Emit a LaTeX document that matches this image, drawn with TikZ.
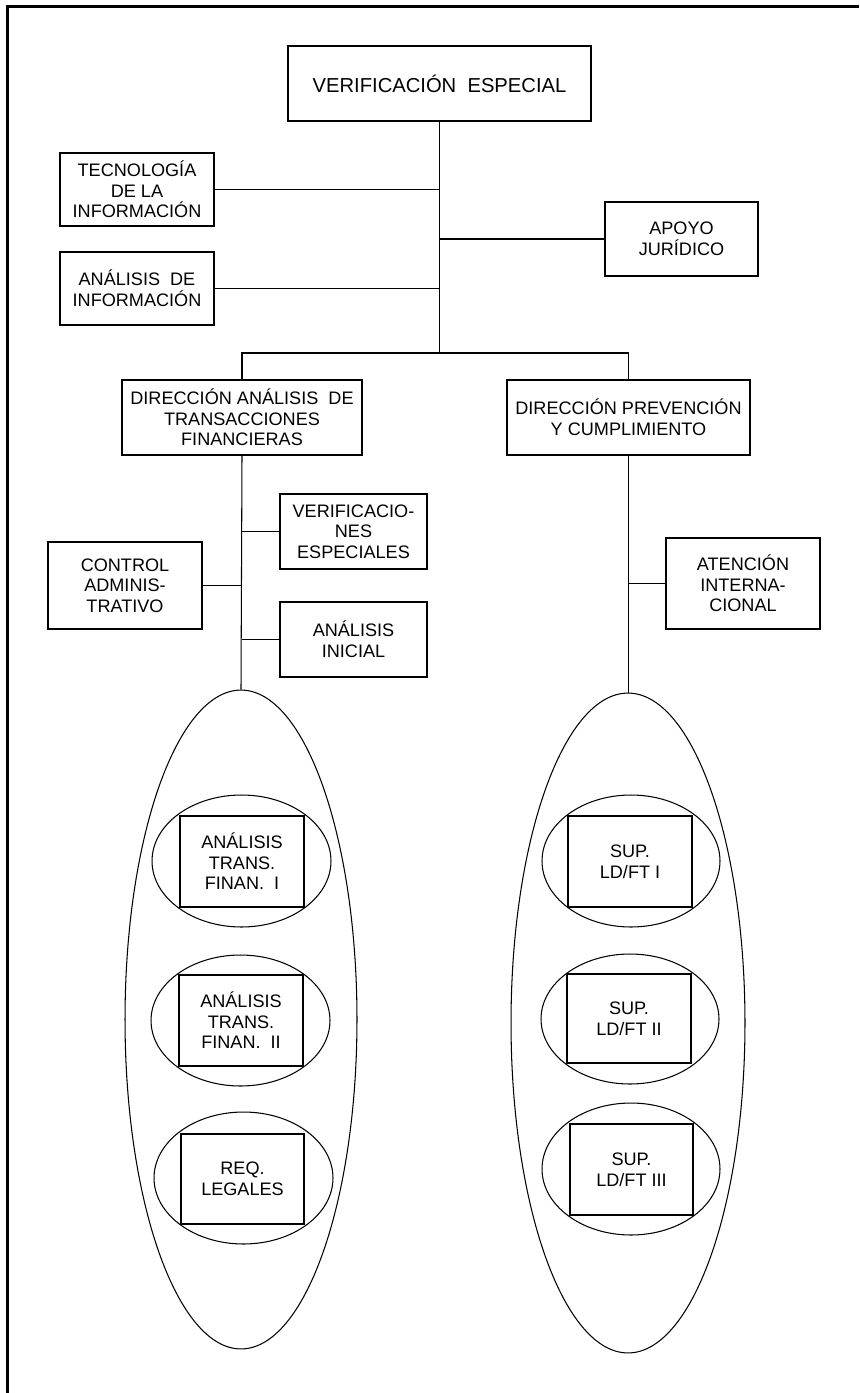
\documentclass[tikz,border=0pt]{standalone}
\usepackage{fontspec}
\setmainfont{Liberation Sans}
\usetikzlibrary{shapes.geometric}

\begin{document}
\begin{tikzpicture}[x=0.02cm, y=-0.02cm,
    every node/.style={font=\fontsize{10.3}{11.7}\selectfont, align=center, inner sep=1pt},
    box/.style 2 args={draw, line width=0.7pt, minimum width=#1, minimum height=#2},
    grp/.style 2 args={draw, ellipse, line width=0.6pt, minimum width=#1, minimum height=#2, inner sep=0pt},
    link/.style={line width=0.6pt}]
            \useasboundingbox (0,0) rectangle (859,1393);
            % frame
            \draw[line width=1.2pt] (7.5,1393) -- (7.5,6.5) -- (859,6.5);
            % upper levels
            \node[box={6.06cm}{1.5cm}, font=\fontsize{11.5}{13}\selectfont] (top) at (439.5,83.5) {VERIFICACIÓN\ \ ESPECIAL};
            \node[box={3.08cm}{1.46cm}] (tec) at (137,189.5) {TECNOLOGÍA\\DE LA\\INFORMACIÓN};
            \node[box={3.06cm}{1.48cm}] (apoyo) at (681.5,239) {APOYO\\JURÍDICO};
            \node[box={3.08cm}{1.46cm}] (anainf) at (137,288.5) {ANÁLISIS\ \ DE\\INFORMACIÓN};
            \node[box={4.8cm}{1.5cm}] (dat) at (242,417.5) {DIRECCIÓN ANÁLISIS\ \ DE\\TRANSACCIONES\\FINANCIERAS};
            \node[box={4.86cm}{1.5cm}] (dpc) at (628.5,417.5) {DIRECCIÓN PREVENCIÓN\\Y CUMPLIMIENTO};
            \node[box={2.94cm}{1.5cm}] (verif) at (353.5,531.5) {VERIFICACIO-\\NES\\ESPECIALES};
            \node[box={3.08cm}{1.74cm}] (control) at (125,585.5) {CONTROL\\ADMINIS-\\TRATIVO};
            \node[box={2.94cm}{1.5cm}] (inicial) at (353.5,639.5) {ANÁLISIS\\INICIAL};
            \node[box={3.08cm}{1.82cm}] (atencion) at (743,583.5) {ATENCIÓN\\INTERNA-\\CIONAL};
            % groups
            \node[grp={4.64cm}{13.18cm}] (grpA) at (241,1019.5) {};
            \node[grp={4.68cm}{13.2cm}] (grpB) at (628,1023) {};
            \node[grp={3.58cm}{2.64cm}] (cA1) at (241.5,861) {};
            \node[grp={3.58cm}{2.62cm}] (cA2) at (240.5,1020.5) {};
            \node[grp={3.58cm}{2.64cm}] (cA3) at (243.5,1178) {};
            \node[grp={3.56cm}{2.64cm}] (cB1) at (631,861) {};
            \node[grp={3.56cm}{2.6cm}] (cB2) at (630,1019) {};
            \node[grp={3.56cm}{2.64cm}] (cB3) at (631,1169) {};
            \node[box={2.48cm}{1.82cm}] (ata) at (242,861.5) {ANÁLISIS\\TRANS.\\FINAN.\ \ I};
            \node[box={2.48cm}{1.82cm}] (atb) at (241,1020.5) {ANÁLISIS\\TRANS.\\FINAN.\ \ II};
            \node[box={2.46cm}{1.8cm}] (req) at (242.5,1179) {REQ.\\LEGALES};
            \node[box={2.48cm}{1.82cm}] (supa) at (630,861.5) {SUP.\\LD/FT I};
            \node[box={2.48cm}{1.78cm}] (supb) at (629,1018.5) {SUP.\\LD/FT II};
            \node[box={2.46cm}{1.82cm}] (supc) at (631.5,1169.5) {SUP.\\LD/FT III};
            % connectors
            \coordinate (bus) at (439.5,353);
            \draw[link] (top.south) -- (bus);
            \draw[link] (tec.east) -- (tec.east -| top.south);
            \draw[link] (apoyo.west) -- (apoyo.west -| top.south);
            \draw[link] (anainf.east) -- (anainf.east -| top.south);
            \draw[link] (dat.north) |- (bus) -| (dpc.north);
            \draw[link] (dat.south) -- (grpA.north);
            \draw[link] (verif.west) -- (verif.west -| dat.south);
            \draw[link] (control.east) -- (control.east -| dat.south);
            \draw[link] (inicial.west) -- (inicial.west -| dat.south);
            \draw[link] (dpc.south) -- (dpc.south |- grpB.north);
            \draw[link] (atencion.west) -- (atencion.west -| dpc.south);
        \end{tikzpicture}
\end{document}
